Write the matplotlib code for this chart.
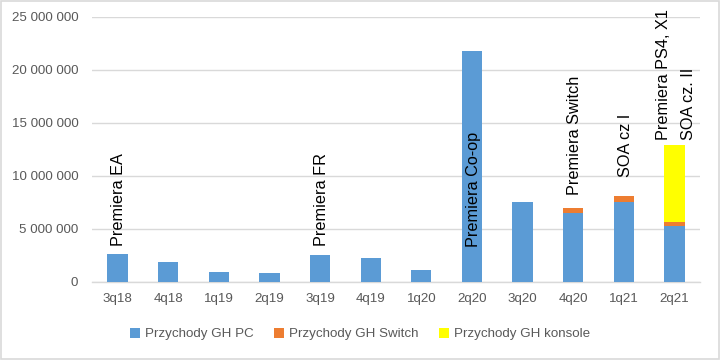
import numpy as np
import matplotlib.pyplot as plt
from matplotlib.patches import Rectangle

plt.rcParams['font.family'] = ['Liberation Sans', 'DejaVu Sans']

# data
quarters = ['3q18', '4q18', '1q19', '2q19', '3q19', '4q19', '1q20', '2q20',
            '3q20', '4q20', '1q21', '2q21']
gh_pc = [2650000, 1890000, 940000, 850000, 2550000, 2260000, 1130000,
         21800000, 7550000, 6500000, 7580000, 5280000]
gh_switch = [0, 0, 0, 0, 0, 0, 0, 0, 0, 480000, 530000, 410000]
gh_konsole = [0, 0, 0, 0, 0, 0, 0, 0, 0, 0, 0, 7230000]

# annotations: (quarter index, text, bottom value)
notes = [(0, 'Premiera EA', 3400000),
         (4, 'Premiera FR', 3400000),
         (7, 'Premiera Co-op', 3300000),
         (9, 'Premiera Switch', 8200000),
         (10, 'SOA cz I', 9900000),
         (11, 'Premiera PS4, X1\nSOA cz. II', 13400000)]

blue = '#5b9bd5'
orange = '#ed7d31'
yellow = '#ffff00'
gray_txt = '#595959'

def main():
	fig = plt.figure(figsize=(7.2, 3.6), dpi=100)
	ax = fig.add_axes([0.128, 0.217, 0.844, 0.736])

	x = np.arange(len(quarters))
	pc = np.array(gh_pc)
	sw = np.array(gh_switch)
	ko = np.array(gh_konsole)

	ax.bar(x, pc, 0.4, color=blue, label='Przychody GH PC', zorder=3)
	ax.bar(x, sw, 0.4, bottom=pc, color=orange, label='Przychody GH Switch', zorder=3)
	ax.bar(x, ko, 0.4, bottom=pc + sw, color=yellow, label='Przychody GH konsole', zorder=3)

	for i, txt, yb in notes:
		ax.text(x[i] + 0.03, yb, txt, rotation=90, ha='center', va='bottom',
			fontsize=11.7, color='black', multialignment='left',
			linespacing=1.8, zorder=4)

	ax.set_xlim(-0.5, len(quarters) - 0.5)
	ax.set_ylim(0, 25000000)
	ticks = np.arange(0, 25000001, 5000000)
	ax.set_yticks(ticks)
	ax.set_yticklabels(['{:,}'.format(int(t)).replace(',', ' ') for t in ticks])
	ax.set_xticks(x)
	ax.set_xticklabels(quarters)

	ax.grid(axis='y', color='#d9d9d9', linewidth=1, zorder=0)
	for s in ['top', 'right', 'left']:
		ax.spines[s].set_visible(False)
	ax.spines['bottom'].set_color('#d9d9d9')
	ax.spines['bottom'].set_linewidth(1)
	ax.tick_params(axis='both', length=0, labelcolor=gray_txt, labelsize=9.6)
	ax.tick_params(axis='y', pad=10)
	ax.tick_params(axis='x', pad=8)

	leg = fig.legend(loc='center', bbox_to_anchor=(0.5, 0.072), ncol=3,
		frameon=False, fontsize=9.6, handlelength=0.75, handleheight=0.75,
		handletextpad=0.35, columnspacing=1.55)
	for t in leg.get_texts():
		t.set_color(gray_txt)

	# chart border
	fig.patches.append(Rectangle((0.001, 0.002), 0.997, 0.996, transform=fig.transFigure,
		fill=False, edgecolor='#d9d9d9', linewidth=1.2))

	fig.savefig('out.png', dpi=100)


if __name__ == '__main__':
	main()
